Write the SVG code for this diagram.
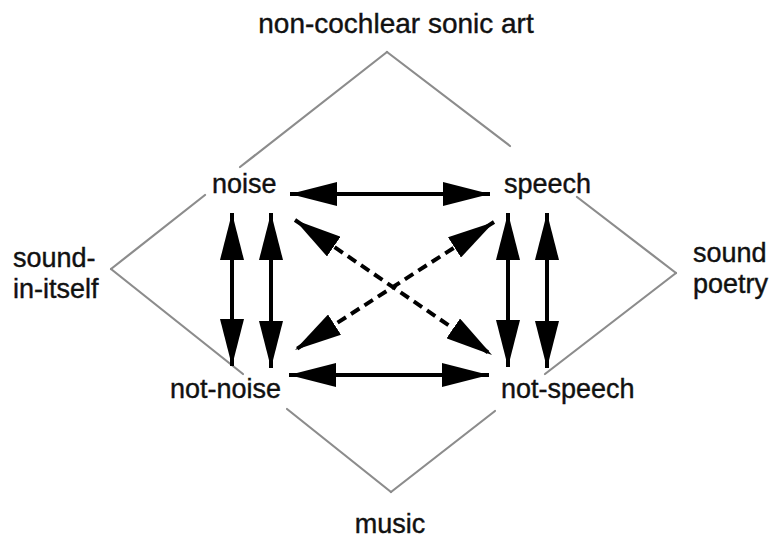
<svg xmlns="http://www.w3.org/2000/svg" width="777" height="539" viewBox="0 0 777 539">
  <style>
    .label { font-family: "Liberation Sans", Arial, sans-serif; font-size: 27px; fill: #111; stroke: #111; stroke-width: 0.4; }
    .frame { stroke: #8c8c8c; stroke-width: 2.2; fill: none; stroke-linecap: round; }
    .link { stroke: #000; stroke-width: 4; fill: none; marker-start: url(#head); marker-end: url(#head); }
    .dashed { stroke-dasharray: 10 6; }
  </style>
  <defs>
    <marker id="head" viewBox="0 0 47 24" refX="47" refY="12" markerWidth="47" markerHeight="24" markerUnits="userSpaceOnUse" orient="auto-start-reverse">
      <path d="M0,0 L47,12 L0,24 z" fill="#000"/>
    </marker>
  </defs>
  <rect width="777" height="539" fill="#fff"/>

  <!-- outer diamond, broken around the inner labels -->
  <g id="frame">
    <line class="frame" x1="387" y1="52" x2="240" y2="167"/>
    <line class="frame" x1="205" y1="195" x2="111" y2="269"/>
    <line class="frame" x1="111" y1="269" x2="243" y2="374"/>
    <line class="frame" x1="287" y1="409" x2="391" y2="492"/>
    <line class="frame" x1="387" y1="52" x2="510" y2="146"/>
    <line class="frame" x1="577" y1="197" x2="676" y2="273"/>
    <line class="frame" x1="676" y1="273" x2="545" y2="374"/>
    <line class="frame" x1="495" y1="411" x2="391" y2="492"/>
  </g>

  <!-- connectors -->
  <g id="connectors">
    <line class="link" x1="290" y1="194" x2="490" y2="194"/>
    <line class="link" x1="289" y1="375" x2="489" y2="375"/>
    <line class="link" x1="232" y1="213" x2="232" y2="366"/>
    <line class="link" x1="271" y1="213" x2="271" y2="368"/>
    <line class="link" x1="508" y1="213" x2="508" y2="367"/>
    <line class="link" x1="547" y1="213" x2="547" y2="368"/>
    <line class="link dashed" x1="295" y1="220" x2="492" y2="355"/>
    <line class="link dashed" x1="494" y1="222" x2="295" y2="350"/>
  </g>

  <!-- corner labels -->
  <g id="non-cochlear">
    <text class="label" x="396" y="33" text-anchor="middle" style="font-size:28px">non-cochlear sonic art</text>
  </g>
  <g id="sound-in-itself">
    <text class="label" x="13" y="267">sound-</text>
    <text class="label" x="13" y="298">in-itself</text>
  </g>
  <g id="sound-poetry">
    <text class="label" x="693" y="262">sound</text>
    <text class="label" x="693" y="293">poetry</text>
  </g>
  <g id="music">
    <text class="label" x="390" y="533" text-anchor="middle">music</text>
  </g>

  <!-- inner nodes -->
  <g id="noise">
    <text class="label" x="212" y="193">noise</text>
  </g>
  <g id="speech">
    <text class="label" x="504" y="193">speech</text>
  </g>
  <g id="not-noise">
    <text class="label" x="170" y="398">not-noise</text>
  </g>
  <g id="not-speech">
    <text class="label" x="501" y="398">not-speech</text>
  </g>
</svg>
